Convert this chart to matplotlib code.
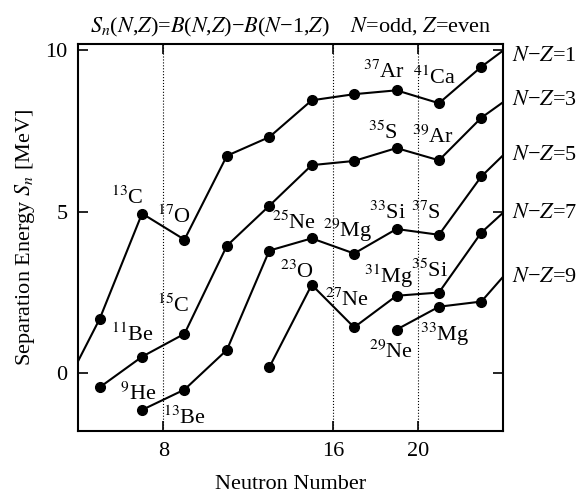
import numpy as np
import matplotlib
matplotlib.use("Agg")
import matplotlib.pyplot as plt

plt.rcParams["font.family"] = ["Liberation Serif", "DejaVu Serif"]
plt.rcParams["mathtext.fontset"] = "stix"

# one-neutron separation energies (MeV) along chains of constant N-Z, odd N
n_nz1 = [3, 5, 7, 9, 11, 13, 15, 17, 19, 21, 23, 25]
s_nz1 = [-0.90, 1.67, 4.94, 4.13, 6.73, 7.31, 8.45, 8.64, 8.76, 8.36, 9.49, 10.47]

n_nz3 = [5, 7, 9, 11, 13, 15, 17, 19, 21, 23, 25]
s_nz3 = [-0.45, 0.50, 1.21, 3.94, 5.18, 6.44, 6.57, 6.97, 6.59, 7.91, 8.85]

n_nz5 = [7, 9, 11, 13, 15, 17, 19, 21, 23, 25]
s_nz5 = [-1.15, -0.52, 0.71, 3.79, 4.17, 3.70, 4.46, 4.28, 6.09, 7.37]

n_nz7 = [13, 15, 17, 19, 21, 23, 25]
s_nz7 = [0.17, 2.73, 1.41, 2.39, 2.49, 4.35, 5.55]

n_nz9 = [19, 21, 23, 25]
s_nz9 = [1.34, 2.05, 2.21, 3.71]

chains = [(n_nz1, s_nz1), (n_nz3, s_nz3), (n_nz5, s_nz5), (n_nz7, s_nz7), (n_nz9, s_nz9)]
chain_names = ["$N$\u2212$Z$=1", "$N$\u2212$Z$=3", "$N$\u2212$Z$=5", "$N$\u2212$Z$=7", "$N$\u2212$Z$=9"]
chain_label_y = [9.82, 8.43, 6.73, 4.94, 2.96]

magic_numbers = [8, 16, 20]

# nucleus labels: (mass, element, x, baseline y)
nuclei = [
    ("13", "C", 6.29, 5.25), ("17", "O", 8.53, 4.66),
    ("25", "Ne", 14.16, 4.46), ("29", "Mg", 16.71, 4.22),
    ("11", "Be", 6.55, 1.00), ("15", "C", 8.49, 1.88),
    ("9", "He", 6.84, -0.84), ("13", "Be", 9.02, -1.58),
    ("23", "O", 14.31, 2.96), ("27", "Ne", 16.69, 2.08),
    ("31", "Mg", 18.63, 2.77), ("35", "Si", 20.56, 2.98),
    ("29", "Ne", 18.75, 0.48), ("33", "Mg", 21.27, 0.98),
    ("33", "Si", 18.59, 4.77), ("37", "S", 20.41, 4.77),
    ("37", "Ar", 18.40, 9.15), ("41", "Ca", 20.80, 8.95),
    ("35", "S", 18.36, 7.24), ("39", "Ar", 20.72, 7.14),
]

fig = plt.figure(figsize=(5.81, 4.93), dpi=100)
ax = fig.add_axes([0.135, 0.126, 0.730, 0.785])

for x in magic_numbers:
    ax.axvline(x, color="black", linestyle=":", linewidth=0.8, zorder=1)

for n, s in chains:
    ax.plot(n, s, color="black", linewidth=1.5, marker="o", markersize=7, zorder=3)

for mass, elem, x, y in nuclei:
    ax.text(x, y, rf"$^{{{mass}}}$" + elem, fontsize=16, ha="center", va="baseline")

for name, y in zip(chain_names, chain_label_y):
    ax.text(1.022, y, name, transform=ax.get_yaxis_transform(), fontsize=16,
            ha="left", va="center", clip_on=False)

ax.set_xlim(4, 24)
ax.set_ylim(-1.8, 10.2)
ax.set_xticks(magic_numbers)
ax.set_yticks([0, 5, 10])
ax.tick_params(direction="in", length=7, width=1.2, top=True, right=True, labelsize=16, pad=8)
for spine in ax.spines.values():
    spine.set_linewidth(1.5)

ax.set_xlabel("Neutron Number", fontsize=16, labelpad=10)
ax.set_ylabel(r"Separation Energy $S_n$ [MeV]", fontsize=16, labelpad=6)
ax.set_title("$S_n$($N$,$Z$)=$B$($N$,$Z$)\u2212$B$($N$\u22121,$Z$)    $N$=odd, $Z$=even",
             fontsize=16, pad=8)

fig.savefig("out.png", dpi=100)
